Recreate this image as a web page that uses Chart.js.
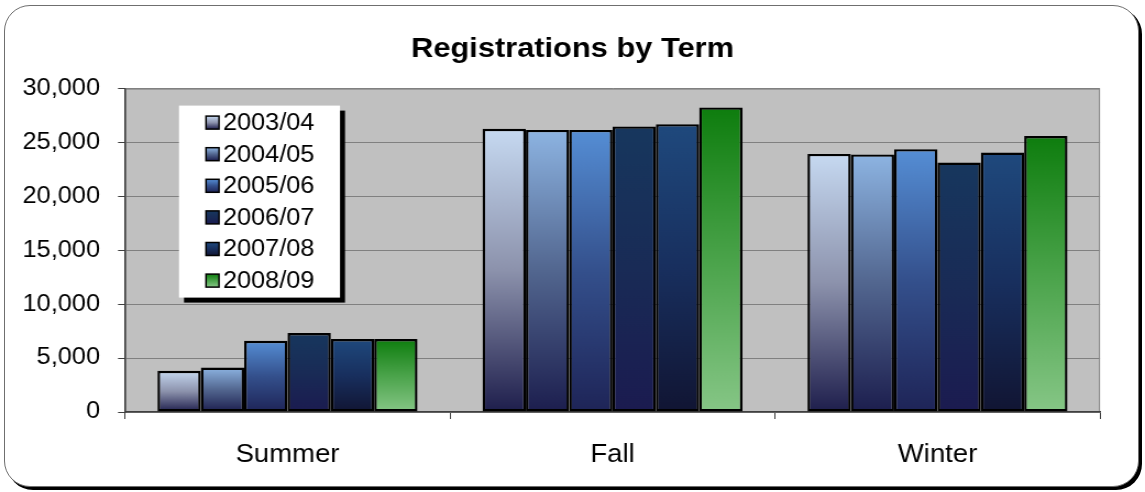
<!DOCTYPE html>
<html>
<head>
<meta charset="utf-8">
<script src="https://cdn.jsdelivr.net/npm/chart.js@4.4.1/dist/chart.umd.min.js"></script>
<style>
  html, body { margin: 0; padding: 0; background: #fff; }
  #card {
    position: absolute; left: 4px; top: 5px; width: 1133px; height: 480px;
    border: 1.5px solid #6f6f6f; border-radius: 26px;
    box-shadow: 3px 3px 0 #000; background: #fff;
  }
  #wrap { position: absolute; left: 0; top: 0; width: 1145px; height: 492px; }
  /* the original is slightly stretched sideways, so the canvas is drawn narrower and scaled up */
  #myChart { width: 1145px; height: 492px; display: block; }
</style>
</head>
<body>
<div id="card"></div>
<div id="wrap"><canvas id="myChart" width="1041" height="492" style="width:1145px;height:492px"></canvas></div>
<script>
var S = 1145 / 1041;

// terms on the x axis
var terms = ["Summer", "Fall", "Winter"];
// one series per academic year (Summer, Fall, Winter)
var years = ["2003/04", "2004/05", "2005/06", "2006/07", "2007/08", "2008/09"];
var y0304 = [3820, 26270, 23940];
var y0405 = [4130, 26170, 23890];
var y0506 = [6610, 26170, 24380];
var y0607 = [7330, 26490, 23140];
var y0708 = [6770, 26700, 24070];
var y0809 = [6770, 28250, 25600];
var yTicks = [0, 5000, 10000, 15000, 20000, 25000, 30000];

// gradient colours, top -> bottom
var fills = [
  ["#C6D9F1", "#8C92AC", "#1E1E4C"],
  ["#8DB4E2", "#52668F", "#1C1E4E"],
  ["#558ED5", "#34508C", "#1E2457"],
  ["#17375E", "#192B56", "#1B1B50"],
  ["#1F497D", "#182F5E", "#111533"],
  ["#0E7D0E", "#4AA34A", "#86C686"]
];

function grad(ctx, i, top, bot) {
  var g = ctx.createLinearGradient(0, top, 0, bot);
  g.addColorStop(0, fills[i][0]);
  g.addColorStop(0.5, fills[i][1]);
  g.addColorStop(1, fills[i][2]);
  return g;
}

function barFill(i) {
  return function(c) {
    if (c.type !== 'data' || !c.chart.chartArea) return fills[i][0];
    var ys = c.chart.scales.y;
    return grad(c.chart.ctx, i, ys.getPixelForValue(c.raw), ys.getPixelForValue(0));
  };
}

var series = [y0304, y0405, y0506, y0607, y0708, y0809];
var datasets = series.map(function(d, i) {
  return {
    label: years[i],
    data: d,
    backgroundColor: barFill(i),
    borderColor: "#000",
    borderWidth: 2.4,
    borderSkipped: false,
    categoryPercentage: 0.8,
    barPercentage: 1.0
  };
});

var plotBg = {
  id: 'plotBg',
  beforeDraw: function(chart) {
    var a = chart.chartArea, ctx = chart.ctx;
    ctx.save();
    ctx.fillStyle = "#C0C0C0";
    ctx.fillRect(a.left, a.top, a.right - a.left, a.bottom - a.top);
    ctx.strokeStyle = "#808080";
    ctx.lineWidth = 1;
    ctx.strokeRect(a.left + 0.5, a.top + 0.5, a.right - a.left - 1, a.bottom - a.top);
    ctx.restore();
  }
};

var boxLegend = {
  id: 'boxLegend',
  afterDatasetsDraw: function(chart) {
    var a = chart.chartArea, ctx = chart.ctx;
    var left = a.left + 54 / S, top = a.top + 17, w = 161 / S, h = 192;
    ctx.save();
    ctx.fillStyle = "#000";
    ctx.fillRect(left + 5 / S, top + 5, w, h);
    ctx.fillStyle = "#fff";
    ctx.fillRect(left, top, w, h);
    ctx.font = "23px 'Liberation Sans', Arial, sans-serif";
    ctx.textBaseline = "middle";
    chart.data.datasets.forEach(function(ds, i) {
      var cy = top + 17 + i * 31.6;
      var sx = left + 27 / S, s = 13;
      ctx.fillStyle = grad(ctx, i, cy - s / 2, cy + s / 2);
      ctx.fillRect(sx, cy - s / 2, s / S, s);
      ctx.strokeStyle = "#000";
      ctx.lineWidth = 1.5;
      ctx.strokeRect(sx, cy - s / 2, s / S, s);
      ctx.fillStyle = "#000";
      ctx.fillText(ds.label, left + 44 / S, cy + 1);
    });
    ctx.restore();
  }
};

var side = 45 / S;

var ctx = document.getElementById("myChart");
var myChart = new Chart(ctx, {
  type: 'bar',
  data: { labels: terms, datasets: datasets },
  plugins: [plotBg, boxLegend],
  options: {
    responsive: false,
    animation: false,
    layout: { padding: 0 },
    plugins: {
      legend: { display: false },
      tooltip: { enabled: false },
      title: {
        display: true,
        text: "Registrations by Term",
        color: "#000",
        font: { family: "'Liberation Sans', Arial, sans-serif", size: 28, weight: 'bold' },
        padding: { top: 32, bottom: 23 }
      }
    },
    scales: {
      x: {
        afterFit: function(s) { s.height = 80; },
        grid: { offset: true, drawOnChartArea: false, tickLength: 7, tickColor: "#404040" },
        border: { color: "#404040", width: 1.5 },
        ticks: {
          color: "#000", padding: 21,
          font: { family: "'Liberation Sans', Arial, sans-serif", size: 25 }
        }
      },
      y: {
        min: 0, max: 30000,
        afterFit: function(s) { s.width = 125 / S; },
        afterBuildTicks: function(s) { s.ticks = yTicks.map(function(v) { return { value: v }; }); },
        grid: { color: "#808080", lineWidth: 1, tickLength: 7 / S, tickColor: "#404040" },
        border: { color: "#404040", width: 1.5 },
        ticks: {
          color: "#000", padding: 18 / S,
          font: { family: "'Liberation Sans', Arial, sans-serif", size: 23 },
          callback: function(v) { return v.toLocaleString('en-US'); }
        }
      },
      // empty spacer on the right so the title stays centred on the whole card
      spacer: {
        type: 'linear', position: 'right', display: true,
        afterFit: function(s) { s.width = side; },
        grid: { display: false, drawTicks: false },
        border: { display: false },
        ticks: { display: false }
      }
    }
  }
});
</script>
</body>
</html>
